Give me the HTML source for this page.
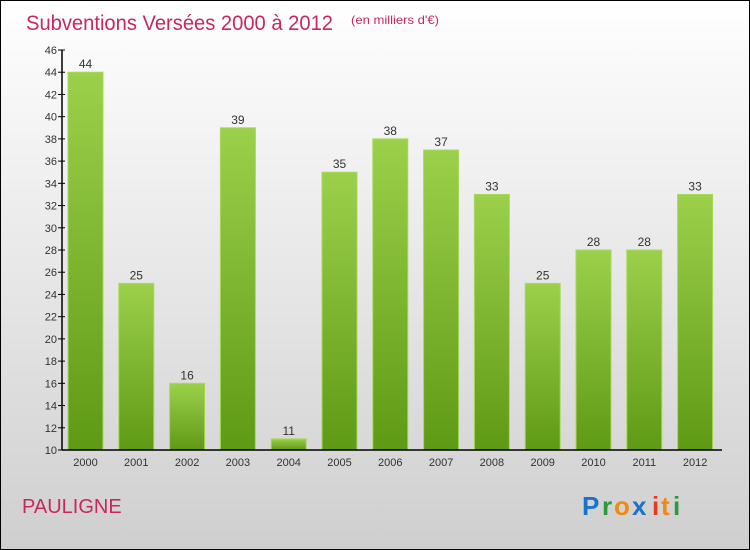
<!DOCTYPE html>
<html><head><meta charset="utf-8"><style>
body{margin:0}
svg{display:block;font-family:"Liberation Sans",sans-serif}
</style></head><body>
<svg id="c" width="750" height="550" xmlns="http://www.w3.org/2000/svg">
<defs>
<linearGradient id="bg" x1="0" y1="0" x2="0" y2="1"><stop offset="0" stop-color="#ffffff"/><stop offset="1" stop-color="#cfcfcf"/></linearGradient>
<linearGradient id="bar" x1="0" y1="0" x2="0" y2="1"><stop offset="0" stop-color="#9cd04b"/><stop offset="1" stop-color="#5f9a15"/></linearGradient>
</defs>
<rect x="0.5" y="0.5" width="749" height="549" fill="url(#bg)" stroke="#000"/>
<text x="26" y="30" font-size="21" fill="#c8285f" textLength="307" lengthAdjust="spacingAndGlyphs">Subventions Versées 2000 à 2012</text>
<text x="351" y="24" font-size="12" fill="#c8285f" textLength="88" lengthAdjust="spacingAndGlyphs">(en milliers d'€)</text>
<text x="22" y="513" font-size="20" fill="#c8285f">PAULIGNE</text>
<g font-size="26" font-weight="bold">
<text x="582" y="515" fill="#1a73c9">P</text><text x="602" y="515" fill="#2a9a3a">r</text><text x="614" y="515" fill="#f08a10">o</text><text x="632" y="515" fill="#1a73c9">x</text><text x="652" y="515" fill="#e83a1a">i</text><text x="661" y="515" fill="#f08a10">t</text><text x="673" y="515" fill="#2a9a3a">i</text>
</g>
<g id="plot"></g>
</svg>
<script>
const categories=["2000","2001","2002","2003","2004","2005","2006","2007","2008","2009","2010","2011","2012"];
const values=[44,25,16,39,11,35,38,37,33,25,28,28,33];
const yTicks=[10,12,14,16,18,20,22,24,26,28,30,32,34,36,38,40,42,44,46];
const yMin=10,yMax=46;
const X0=62,X1=722,Y0=450,Y1=50;
const y=v=>Y0-(v-yMin)/(yMax-yMin)*(Y0-Y1);
const step=50.8;
const x=i=>85.5+step*i;
const ns="http://www.w3.org/2000/svg",g=document.getElementById('plot');
function mk(t,a,txt){const e=document.createElementNS(ns,t);for(const k in a)e.setAttribute(k,a[k]);if(txt!=null)e.textContent=txt;g.appendChild(e);return e;}
values.forEach((v,i)=>{
 const r=mk('rect',{x:x(i)-17.5,y:y(v),width:35,height:Y0-y(v),fill:'url(#bar)',stroke:'#a8d860','stroke-width':1});
 
 
 const t=mk('text',{x:x(i),y:y(v)-4,'font-size':12,fill:'#333','text-anchor':'middle'},String(v));
 
 
 const c=mk('text',{x:x(i),y:Y0+16,'font-size':11,fill:'#333','text-anchor':'middle'},categories[i]);
 
 
});
yTicks.forEach(v=>{
 const l=mk('line',{x1:X0-4,x2:X0+3,y1:y(v),y2:y(v),stroke:'#000'});
 
 
 const t=mk('text',{x:X0-5,y:y(v)+4,'font-size':11,fill:'#333','text-anchor':'end'},String(v));
 
 
});
const ya=mk('line',{x1:X0,x2:X0,y1:Y1,y2:Y0,stroke:'#000','stroke-width':1.5});


const xa=mk('line',{x1:X0,x2:X1,y1:Y0,y2:Y0,stroke:'#000','stroke-width':1.5});


</script>
</body></html>
